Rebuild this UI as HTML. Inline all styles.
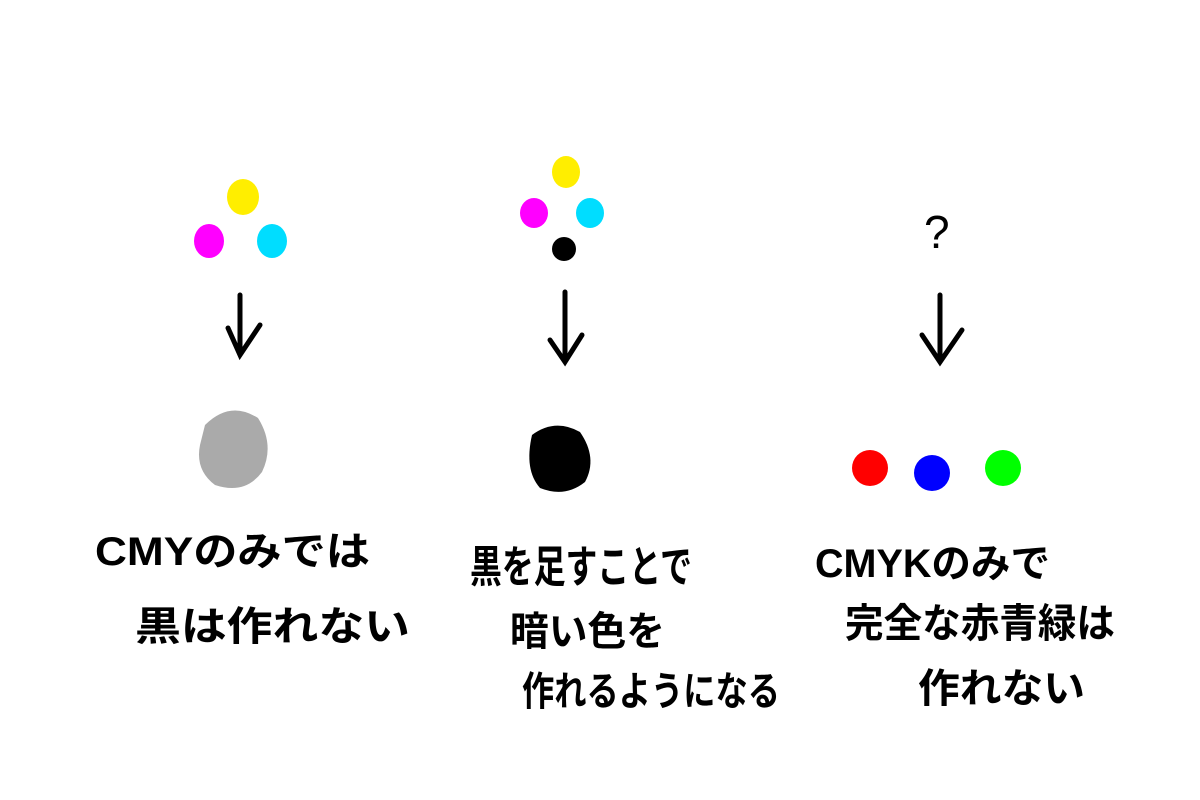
<!DOCTYPE html>
<html><head><meta charset="utf-8"><style>
html,body{margin:0;padding:0;background:#fff;}
svg{display:block;}
text{font-family:"Liberation Sans","Noto Sans CJK JP",sans-serif;font-weight:bold;fill:#000;}
</style></head><body>
<svg width="1200" height="800" viewBox="0 0 1200 800">
<rect width="1200" height="800" fill="#fff"/>
<g>
 <ellipse cx="243" cy="197" rx="16" ry="18" fill="#ffee00"/>
 <ellipse cx="209" cy="241" rx="15" ry="17" fill="#ff00ff"/>
 <ellipse cx="272" cy="241" rx="15" ry="17" fill="#00ddff"/>
 <path d="M240 295 L240 355 M228 328 L240 355 L260 325" stroke="#000" stroke-width="5" fill="none" stroke-linecap="round"/>
 <path d="M205 425 Q230 400 258 418 Q275 445 262 472 Q245 495 215 485 Q195 470 200 445 Z" fill="#aaaaaa"/>
 <text x="95" y="565" font-size="40" textLength="275" lengthAdjust="spacingAndGlyphs">CMYのみでは</text>
 <text x="135" y="640" font-size="40" textLength="275" lengthAdjust="spacingAndGlyphs">黒は作れない</text>
</g>
<g>
 <ellipse cx="566" cy="172" rx="14" ry="16" fill="#ffee00"/>
 <ellipse cx="534" cy="213" rx="14" ry="15" fill="#ff00ff"/>
 <ellipse cx="590" cy="213" rx="14" ry="15" fill="#00ddff"/>
 <circle cx="564" cy="249" r="12" fill="#000"/>
 <path d="M565 292 L565 362 M550 340 L565 362 L582 335" stroke="#000" stroke-width="5" fill="none" stroke-linecap="round"/>
 <path d="M532 435 Q555 418 580 432 Q598 458 585 482 Q565 498 540 488 Q524 470 532 435 Z" fill="#000"/>
 <text x="470" y="582" font-size="44" textLength="222" lengthAdjust="spacingAndGlyphs">黒を足すことで</text>
 <text x="510" y="645" font-size="40" textLength="155" lengthAdjust="spacingAndGlyphs">暗い色を</text>
 <text x="522" y="705" font-size="40" textLength="258" lengthAdjust="spacingAndGlyphs">作れるようになる</text>
</g>
<g>
 <text x="924" y="248" font-size="46" style="font-weight:normal">?</text>
 <path d="M940 295 L940 362 M922 335 L940 362 L962 330" stroke="#000" stroke-width="5" fill="none" stroke-linecap="round"/>
 <circle cx="870" cy="468" r="18" fill="#ff0000"/>
 <circle cx="932" cy="473" r="18" fill="#0000ff"/>
 <circle cx="1003" cy="468" r="18" fill="#00ff00"/>
 <text x="815" y="577" font-size="40" textLength="235" lengthAdjust="spacingAndGlyphs">CMYKのみで</text>
 <text x="845" y="637" font-size="40" textLength="270" lengthAdjust="spacingAndGlyphs">完全な赤青緑は</text>
 <text x="918" y="702" font-size="40" textLength="167" lengthAdjust="spacingAndGlyphs">作れない</text>
</g>
</svg>
</body></html>
